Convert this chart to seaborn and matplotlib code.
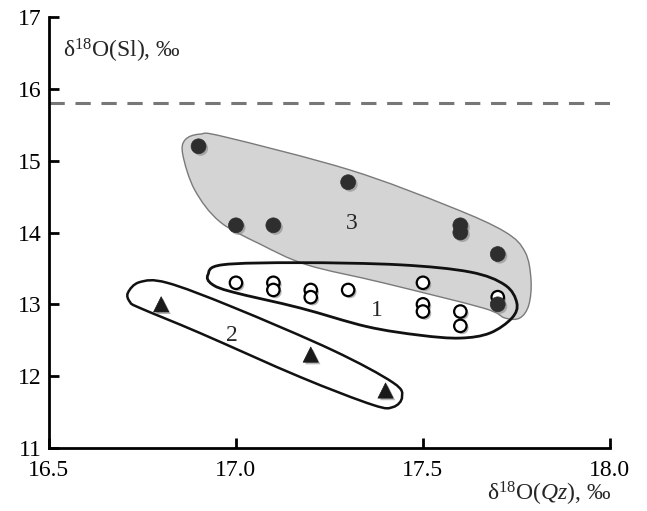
import numpy as np
import pandas as pd
import seaborn as sns
import matplotlib.pyplot as plt
import matplotlib.patheffects as pe
from matplotlib.path import Path
from matplotlib.patches import PathPatch

# group 3 - filled circles
g3_x = [16.9, 17.0, 17.1, 17.3, 17.6, 17.6, 17.7, 17.7]
g3_y = [15.2, 14.1, 14.1, 14.7, 14.1, 14.0, 13.7, 13.0]
# group 1 - open circles
g1_x = [17.0, 17.1, 17.1, 17.2, 17.2, 17.3, 17.5, 17.5, 17.5, 17.6, 17.6, 17.7]
g1_y = [13.3, 13.3, 13.2, 13.2, 13.1, 13.2, 13.3, 13.0, 12.9, 12.9, 12.7, 13.1]
# group 2 - triangles
g2_x = [16.8, 17.2, 17.4]
g2_y = [13.0, 12.3, 11.8]

ref_line = 15.8

# hand-drawn envelopes (outline vertices, data units)
env3_x = [16.864, 16.904, 16.971, 17.305, 17.572, 17.719, 17.773, 17.789, 17.783, 17.759,
          17.719, 17.660, 17.393, 17.190, 17.064, 16.957, 16.890, 16.858]
env3_y = [15.29, 15.37, 15.33, 14.87, 14.36, 14.01, 13.73, 13.34, 12.99, 12.81,
          12.81, 12.95, 13.30, 13.55, 13.84, 14.15, 14.59, 15.08]
env1_x = [16.925, 16.963, 17.171, 17.439, 17.626, 17.719, 17.751, 17.738, 17.679, 17.599,
          17.492, 17.350, 17.171, 16.992, 16.936]
env1_y = [13.41, 13.55, 13.58, 13.55, 13.45, 13.27, 13.02, 12.81, 12.60, 12.53,
          12.57, 12.69, 12.95, 13.17, 13.28]
env2_x = [16.711, 16.743, 16.816, 16.992, 17.259, 17.420, 17.444, 17.420, 17.366, 17.171,
          16.904, 16.743, 16.717]
env2_y = [13.16, 13.31, 13.30, 12.96, 12.36, 11.91, 11.71, 11.57, 11.60, 11.99,
          12.60, 12.95, 13.03]


def smooth_closed(xs, ys):
    # closed catmull-rom outline turned into cubic bezier segments
    p = np.column_stack([xs, ys])
    n = len(p)
    verts = [p[0]]
    codes = [Path.MOVETO]
    for i in range(n):
        p0, p1, p2, p3 = p[i - 1], p[i], p[(i + 1) % n], p[(i + 2) % n]
        verts += [p1 + (p2 - p0) / 6, p2 - (p3 - p1) / 6, p2]
        codes += [Path.CURVE4] * 3
    return Path(verts, codes)


sns.set_style("ticks")
plt.rcParams['font.family'] = ['Liberation Serif', 'DejaVu Serif']
plt.rcParams['mathtext.fontset'] = 'custom'
plt.rcParams['mathtext.rm'] = 'Liberation Serif'
plt.rcParams['mathtext.it'] = 'Liberation Serif:italic'

fig = plt.figure(figsize=(6.47, 5.11), dpi=100)
ax = fig.add_axes([0.0757, 0.1233, 0.867, 0.8434])

ax.add_patch(PathPatch(smooth_closed(env3_x, env3_y), facecolor='#d4d4d4',
                       edgecolor='#7a7a7a', lw=1.0, zorder=1))
ax.add_patch(PathPatch(smooth_closed(env1_x, env1_y), facecolor='none',
                       edgecolor='#111111', lw=2.0, zorder=2))
ax.add_patch(PathPatch(smooth_closed(env2_x, env2_y), facecolor='none',
                       edgecolor='#111111', lw=1.8, zorder=2))

ax.axhline(ref_line, color='#777777', lw=2.2, ls=(0, (5, 3.5)), zorder=1)

shadow = [pe.SimplePatchShadow(offset=(1.5, -1.5), shadow_rgbFace='#888888', alpha=0.6), pe.Normal()]

d1 = pd.DataFrame({'x': g1_x, 'y': g1_y})
d2 = pd.DataFrame({'x': g2_x, 'y': g2_y})
d3 = pd.DataFrame({'x': g3_x, 'y': g3_y})

sns.scatterplot(data=d1, x='x', y='y', marker='o', s=80, color='white',
                edgecolor='black', linewidth=1.6, ax=ax, zorder=3)
ax.collections[-1].set_path_effects(shadow)
sns.scatterplot(data=d2, x='x', y='y', marker='^', s=120, color='#1a1a1a',
                edgecolor='#1a1a1a', linewidth=0.5, ax=ax, zorder=3)
ax.collections[-1].set_path_effects(shadow)
sns.scatterplot(data=d3, x='x', y='y', marker='o', s=115, color='#2e2e2e',
                edgecolor='#2e2e2e', linewidth=0.5, ax=ax, zorder=4)
ax.collections[-1].set_path_effects(shadow)

ax.text(17.31, 14.12, '3', fontsize=17, ha='center', va='center', zorder=5)
ax.text(17.377, 12.92, '1', fontsize=17, ha='center', va='center', zorder=5)
ax.text(16.99, 12.57, '2', fontsize=17, ha='center', va='center', zorder=5)

ax.set_xlim(16.5, 18.0)
ax.set_ylim(11, 17)
ax.set_xticks([16.5, 17.0, 17.5, 18.0])
ax.set_xticklabels(['16.5', '17.0', '17.5', '18.0'])
ax.set_yticks([11, 12, 13, 14, 15, 16, 17])
ax.tick_params(direction='in', length=7, width=2, labelsize=17, colors='black')
ax.tick_params(axis='x', pad=9)
ax.tick_params(axis='y', pad=5)
ax.set_xlabel('')
ax.set_ylabel('')
sns.despine(ax=ax)
for sp in ['left', 'bottom']:
    ax.spines[sp].set_linewidth(2)
    ax.spines[sp].set_color('black')

ax.text(0.025, 0.955, 'δ$^{18}$O(Sl), $\\mathit{‰}$', transform=ax.transAxes,
        fontsize=17, ha='left', va='top')
fig.text(0.945, 0.005, 'δ$^{18}$O($\\mathit{Qz}$), $\\mathit{‰}$',
         fontsize=17, ha='right', va='bottom')

fig.savefig('out.png', dpi=100)
